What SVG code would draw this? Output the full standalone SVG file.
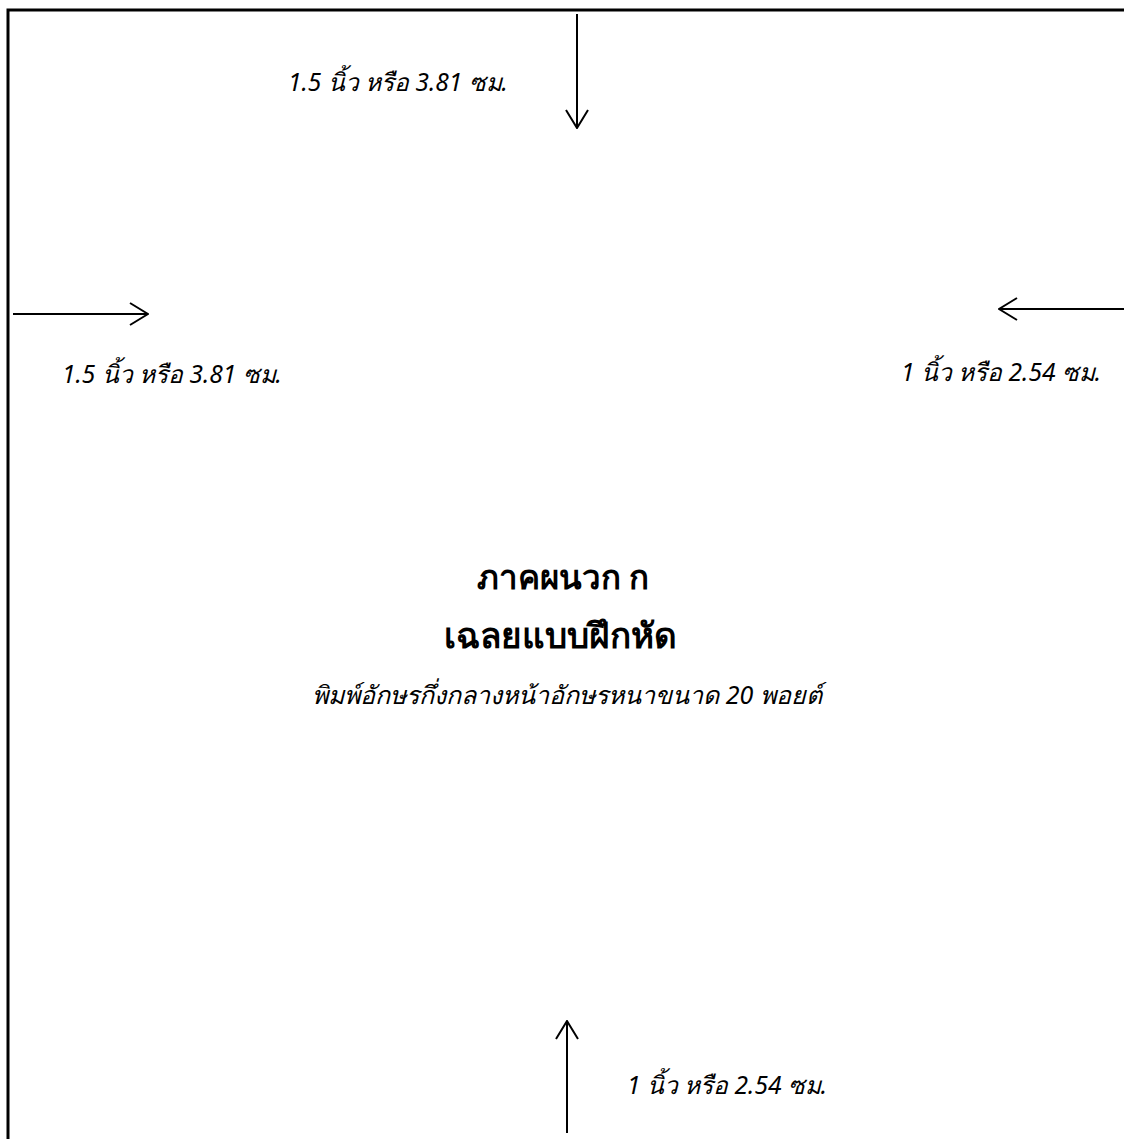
<svg xmlns="http://www.w3.org/2000/svg" width="1124" height="1139" viewBox="0 0 1124 1139">
<style>
.lbl{font-family:"Noto Sans","DejaVu Sans","Liberation Sans",sans-serif;font-style:italic;font-size:24.5px;fill:#000}
.sub{font-size:25px}
.ttl{font-family:"Noto Sans","DejaVu Sans","Liberation Sans",sans-serif;font-weight:bold;font-size:33px;fill:#000;text-anchor:middle}
.big{font-size:35px}
.ln{stroke:#000;stroke-width:2;fill:none}
</style>
<defs>
<marker id="ah" viewBox="0 0 20 24" refX="19" refY="12" markerWidth="20" markerHeight="24" markerUnits="userSpaceOnUse" orient="auto">
<path d="M1,1 L19,12 L1,23" fill="none" stroke="#000" stroke-width="2"/>
</marker>
</defs>
<rect width="1124" height="1139" fill="#fff"/>
<g id="border">
<path d="M8,1139 V10 H1124" stroke="#000" stroke-width="3" fill="none"/>
</g>
<g id="connectors">
<line class="ln" x1="577" y1="14" x2="577" y2="128" marker-end="url(#ah)"/>
<line class="ln" x1="13" y1="314" x2="148" y2="314" marker-end="url(#ah)"/>
<line class="ln" x1="1124" y1="309" x2="999" y2="309" marker-end="url(#ah)"/>
<line class="ln" x1="567" y1="1133" x2="567" y2="1021" marker-end="url(#ah)"/>
</g>
<g id="label-top"><text class="lbl" x="288" y="91">1.5 นิ้ว หรือ 3.81 ซม.</text></g>
<g id="label-left"><text class="lbl" x="62" y="383">1.5 นิ้ว หรือ 3.81 ซม.</text></g>
<g id="label-right"><text class="lbl" x="901" y="381">1 นิ้ว หรือ 2.54 ซม.</text></g>
<g id="title">
<text class="ttl" x="563" y="589">ภาคผนวก ก</text>
<text class="ttl big" x="560" y="648">เฉลยแบบฝึกหัด</text>
<text class="lbl sub" x="567" y="704" text-anchor="middle">พิมพ์อักษรกึ่งกลางหน้าอักษรหนาขนาด 20 พอยต์</text>
</g>
<g id="label-bottom"><text class="lbl" x="627" y="1094">1 นิ้ว หรือ 2.54 ซม.</text></g>
</svg>
